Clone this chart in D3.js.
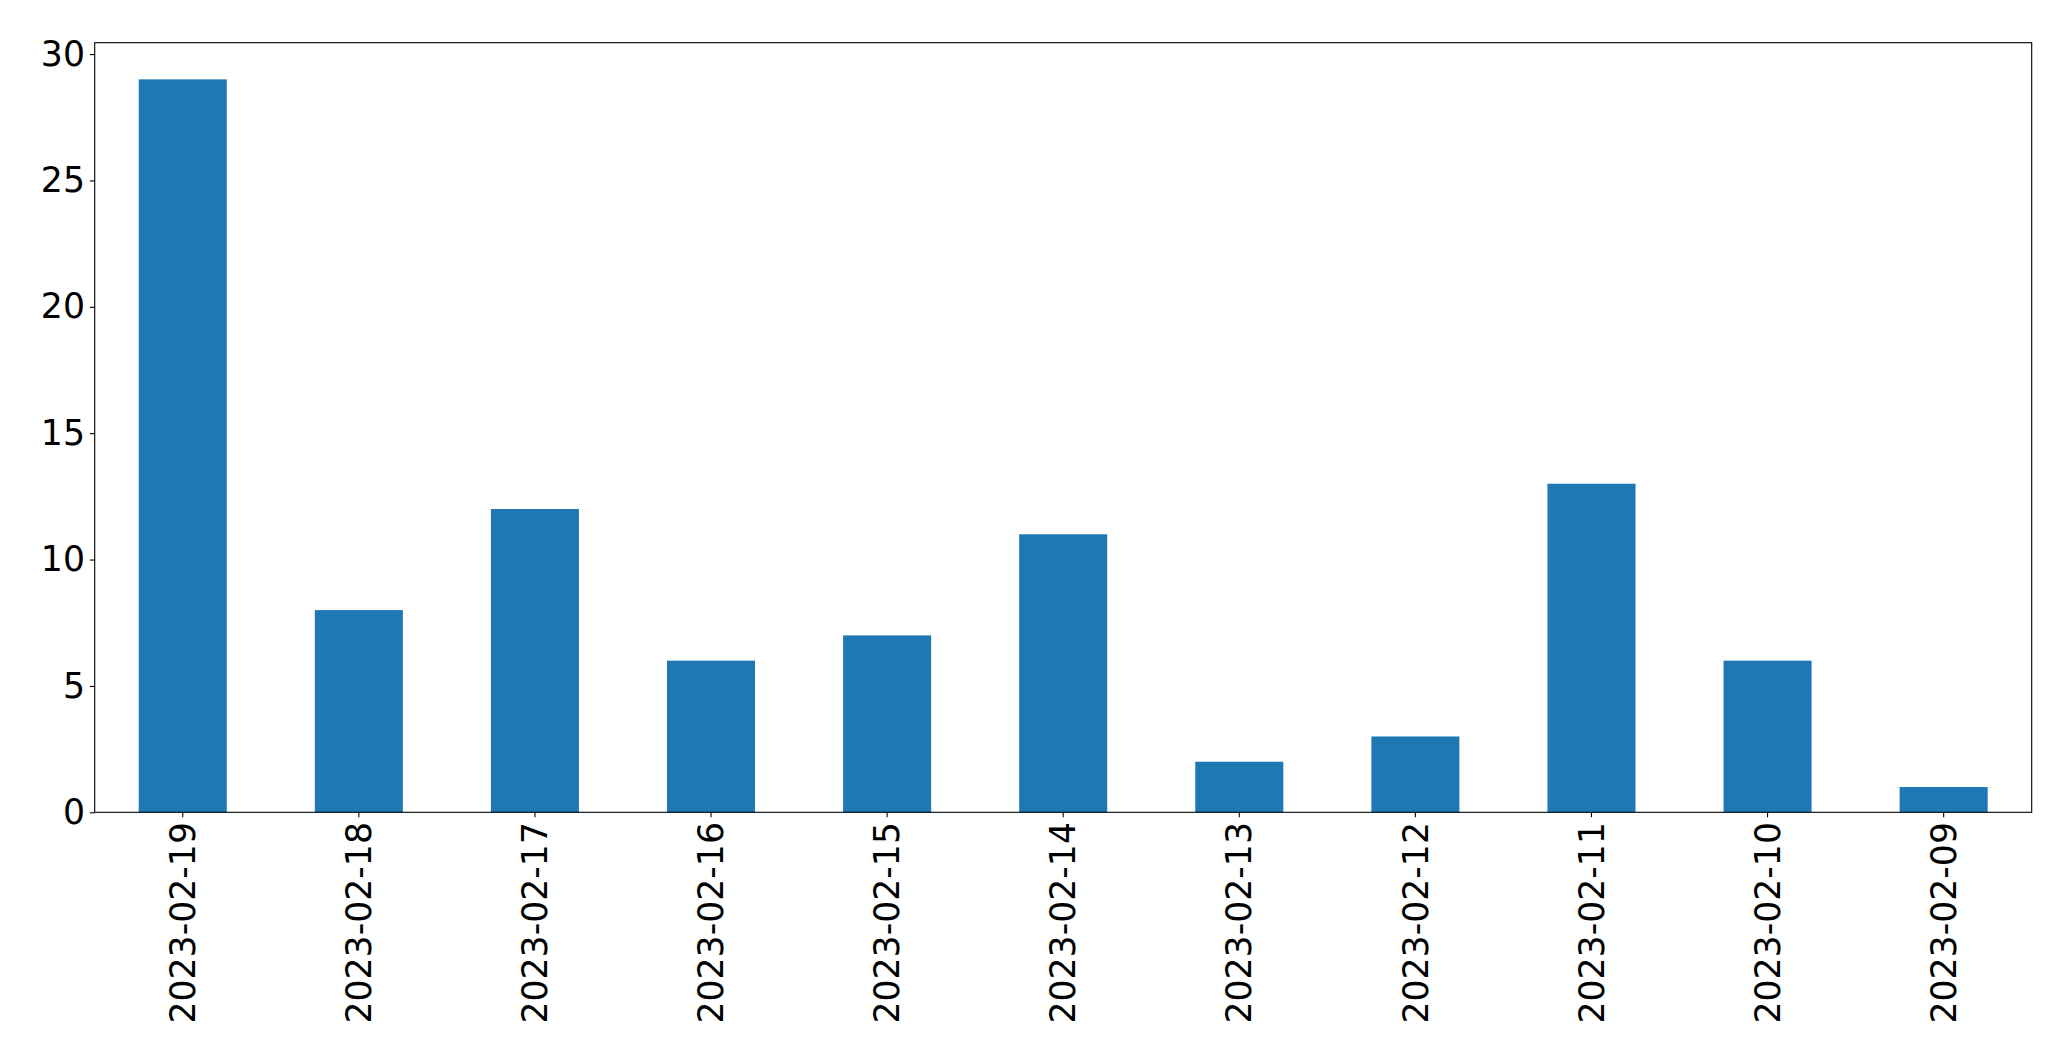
<!DOCTYPE html>
<html>
<head>
<meta charset="utf-8">
<script src="https://cdn.jsdelivr.net/npm/d3@7"></script>
<style>
  html, body { margin: 0; padding: 0; background: #fff; }
  svg { display: block; }
</style>
</head>
<body>
<svg id="chart" width="2071" height="1064"></svg>
<script>
const categories = ["2023-02-19","2023-02-18","2023-02-17","2023-02-16","2023-02-15","2023-02-14","2023-02-13","2023-02-12","2023-02-11","2023-02-10","2023-02-09"];
const values = [29, 8, 12, 6, 7, 11, 2, 3, 13, 6, 1];
const yTicks = [0, 5, 10, 15, 20, 25, 30];

const W = 2071, H = 1064;
const margin = {left: 94.7, right: W - 2031.7, top: 42.7, bottom: H - 812.3};
const fontSize = 34.7;
const tickLen = 4.86, tickPad = 4.86;

const svg = d3.select("#chart");
const x = d3.scaleBand().domain(categories)
  .range([margin.left, W - margin.right])
  .paddingInner(0.5).paddingOuter(0.25);
const y = d3.scaleLinear().domain([0, d3.max(values) * 1.05])
  .range([H - margin.bottom, margin.top]);

svg.append("g").selectAll("rect").data(values).join("rect")
  .attr("x", (d, i) => x(categories[i]))
  .attr("width", x.bandwidth())
  .attr("y", d => y(d))
  .attr("height", d => y(0) - y(d))
  .attr("fill", "#1f77b4");

const yAxis = svg.append("g")
  .attr("transform", `translate(${margin.left},0)`)
  .call(d3.axisLeft(y).tickValues(yTicks).tickFormat(d3.format("d")).tickSize(tickLen).tickPadding(tickPad));
yAxis.select(".domain").remove();
yAxis.selectAll("line").attr("stroke", "#000").attr("stroke-width", 1.1);
yAxis.selectAll("text").attr("font-family", "DejaVu Sans").attr("font-size", fontSize).attr("fill", "#000");

const xAxis = svg.append("g")
  .attr("transform", `translate(0,${H - margin.bottom})`)
  .call(d3.axisBottom(x).tickSize(tickLen).tickPadding(tickPad));
xAxis.select(".domain").remove();
xAxis.selectAll("line").attr("stroke", "#000").attr("stroke-width", 1.1);
xAxis.selectAll("text")
  .attr("font-family", "DejaVu Sans").attr("font-size", fontSize).attr("fill", "#000")
  .attr("transform", "rotate(-90)")
  .attr("x", -(tickLen + tickPad))
  .attr("y", 0)
  .attr("dy", "0.35em")
  .attr("text-anchor", "end");

svg.append("rect")
  .attr("x", margin.left).attr("y", margin.top)
  .attr("width", W - margin.right - margin.left)
  .attr("height", H - margin.bottom - margin.top)
  .attr("fill", "none").attr("stroke", "#000").attr("stroke-width", 1.1);
</script>
</body>
</html>
